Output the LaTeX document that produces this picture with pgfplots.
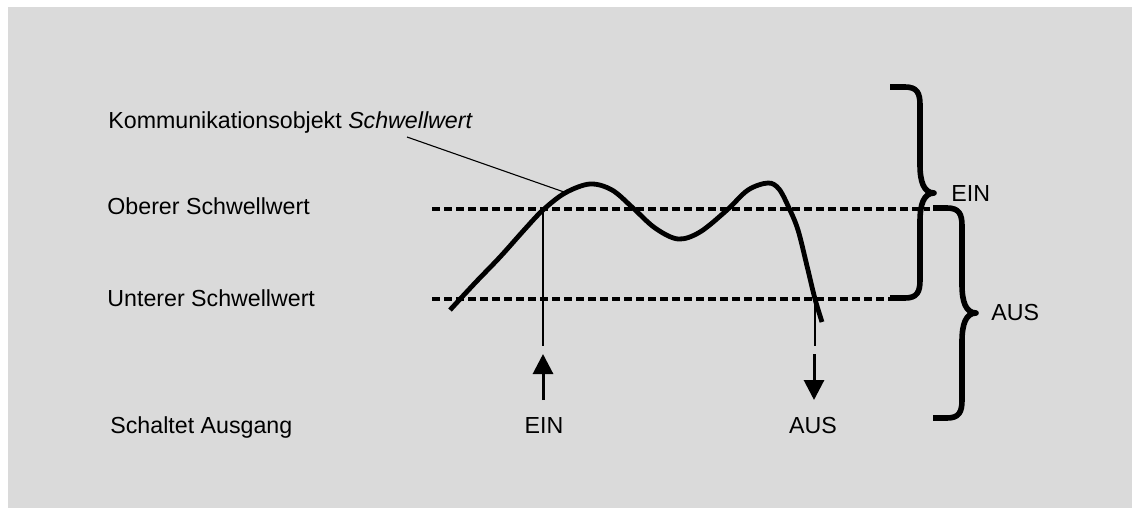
\documentclass[border=0pt]{standalone}
\usepackage{pgfplots}
\pgfplotsset{compat=1.18}
\usepackage{fontspec}
\setmainfont{Liberation Sans}
\usetikzlibrary{arrows.meta}
\definecolor{bg}{RGB}{218,218,218}
\definecolor{thin}{RGB}{40,40,40}
\begin{document}
\fontsize{11.6}{14}\selectfont
\begin{tikzpicture}[lbl/.style={inner sep=0pt, font=\fontsize{11.6}{14}\selectfont}]
\begin{axis}[
  scale only axis, width=566pt, height=254pt,
  xmin=0, xmax=1132, ymin=0, ymax=508, y dir=reverse,
  axis lines=none, xtick=\empty, ytick=\empty, clip=false
]
% background
\fill[white] (0,0) rectangle (1132,508);
\fill[bg] (8,7) rectangle (1132,508);

% threshold lines
\addplot[black, line width=1.6pt, dash pattern=on 4pt off 2pt] coordinates {(432,209) (930,209)};
\addplot[black, line width=1.6pt, dash pattern=on 4pt off 2pt] coordinates {(432,299) (890,299)};

% thin vertical lines
\addplot[thin, line width=0.7pt] coordinates {(543,209) (543,346)};
\addplot[thin, line width=0.7pt] coordinates {(815,299) (815,346)};

% leader line
\addplot[black, line width=0.55pt] coordinates {(407,137) (564,192)};

% measured curve
\addplot[black, line width=2.4pt, smooth, tension=0.55] coordinates {
 (450,310) (475,283) (500,257) (525,229) (543,210) (565,193) (590,184)
 (612,190) (633,208) (655,228) (678,239) (700,232) (727,210) (748,190)
 (768,183) (779,189) (789,208) (798,230) (807,266) (815,299) (822,322)
};

% arrows
\draw[line width=1.5pt, -{Triangle[width=10pt,length=10pt]}] (543,400) -- (543,354);
\draw[line width=1.5pt, -{Triangle[width=10pt,length=10pt]}] (814,354) -- (814,400);

% braces
\draw[line width=2.8pt, line cap=butt, line join=round]
  (890,87) -- (905,87) .. controls (917,87) and (920,93) .. (920,105)
  -- (920,165) .. controls (920,182) and (924,193) .. (934,193)
  .. controls (924,193) and (920,204) .. (920,221)
  -- (920,280) .. controls (920,292) and (917,298) .. (905,298) -- (890,298);
\draw[line width=2.8pt, line cap=butt, line join=round]
  (933,208) -- (947,208) .. controls (959,208) and (962,214) .. (962,226)
  -- (962,285) .. controls (962,302) and (966,313) .. (976,313)
  .. controls (966,313) and (962,324) .. (962,341)
  -- (962,400) .. controls (962,412) and (959,418) .. (947,418) -- (933,418);

% labels
\node[lbl, anchor=base west] at (108,128) {Kommunikationsobjekt \textit{Schwellwert}};
\node[lbl, anchor=base west] at (107,214) {Oberer Schwellwert};
\node[lbl, anchor=base west] at (107,306) {Unterer Schwellwert};
\node[lbl, anchor=base west] at (110,433) {Schaltet Ausgang};
\node[lbl, anchor=base] at (544,433) {EIN};
\node[lbl, anchor=base] at (813,433) {AUS};
\node[lbl, anchor=base west] at (951,201) {EIN};
\node[lbl, anchor=base west] at (991,320) {AUS};
\end{axis}
\end{tikzpicture}
\end{document}
